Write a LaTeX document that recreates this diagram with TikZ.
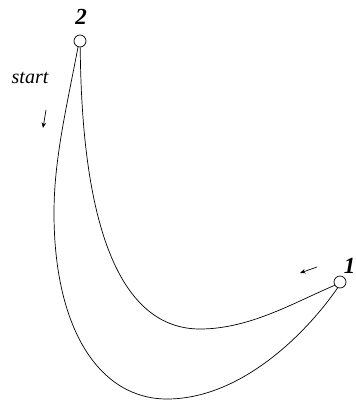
\documentclass[tikz,border=0pt]{standalone}
\usepackage{fontspec}
\setmainfont{Liberation Serif}
\usetikzlibrary{arrows.meta}
\begin{document}
\begin{tikzpicture}[x=1pt,y=-1pt,
  vert/.style={circle,draw,line width=0.7pt,minimum size=12pt,inner sep=0pt,fill=white},
  lab/.style={font=\fontsize{23}{23}\selectfont\bfseries\itshape,inner sep=0pt},
  edge/.style={line width=0.7pt},
  hint/.style={line width=0.7pt,-{Stealth[length=5.5pt,width=4.5pt]}}]
\useasboundingbox (0,0) rectangle (356,400);
\node[vert] (n2) at (80,41) {};
\node[vert] (n1) at (340,282) {};
\node[lab] (l2) at (81,17) {2};
\node[lab,anchor=east] (l1) at (355.5,266) {1};
\node[font=\fontsize{20}{20}\selectfont\itshape,inner sep=0pt] (st) at (30,78) {start};
% inner curve
\draw[edge] (n2.272) .. controls (82,250) and (130,329) .. (200,329)
  .. controls (250,329) and (295,302) .. (n1.212);
% outer curve
\draw[edge] (n2.252) .. controls (66,110) and (54,160) .. (54,213)
  .. controls (54,330) and (100,399) .. (167,399)
  .. controls (240,399) and (305,335) .. (n1.248);
% hint arrows
\coordinate (a1s) at (46,110);
\coordinate (a1e) at (43,128);
\draw[hint] (a1s) -- (a1e);
\coordinate (a2s) at (317,267);
\coordinate (a2e) at (300,273);
\draw[hint] (a2s) -- (a2e);
\end{tikzpicture}
\end{document}
